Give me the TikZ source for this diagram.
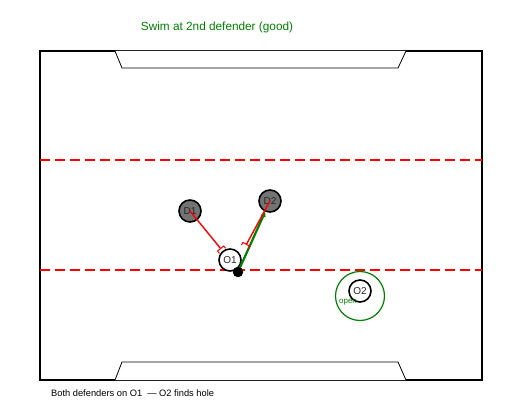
\documentclass[tikz,border=0pt]{standalone}
\usepackage{fontspec}
\setmainfont{Liberation Sans}
\usetikzlibrary{arrows.meta}

\begin{document}
\begin{tikzpicture}[x=1pt,y=-1pt]
\tikzstyle{player}=[draw,shape=circle,line width=1.6pt,inner sep=0pt,minimum size=22pt,font=\fontsize{10}{10}\selectfont,text=black!85];
\tikzstyle{defender}=[player,fill=black!55];
\tikzstyle{attacker}=[player,fill=white];
\tikzstyle{zoneline}=[red,line width=1.6pt,dash pattern=on 10pt off 5pt];
\tikzstyle{press}=[red,line width=1.4pt,-{Bracket[reversed,width=9pt,length=3pt,line width=1pt]}];
\tikzstyle{swim}=[green!50!black,line width=2.2pt,-{Triangle[width=5pt,length=5pt]}];
\useasboundingbox (0,0) rectangle (520,420);
% field and goals
\draw[line width=1.5pt] (40,51) rectangle (482,380);
\draw[fill=white,line width=0.8pt] (115,51) -- (122,68) -- (398,68) -- (406,51);
\draw[fill=white,line width=0.8pt] (115,380) -- (122,362) -- (398,362) -- (406,380);
\draw[zoneline] (40,160) -- (482,160);
\draw[zoneline] (40,270) -- (482,270);
% players
\node[defender] (D1) at (190,211) {D1};
\node[defender] (D2) at (270,201) {D2};
\node[attacker] (O1) at (230,260) {O1};
\node[attacker] (O2) at (360,291) {O2};
\coordinate (ballpos) at (238,272);
\coordinate (hit2) at (245,247);
% both defenders step to O1
\draw[swim] (ballpos) -- (D2);
\draw[press] (D1.center) -- (O1);
\draw[press] (D2.center) -- (hit2);
\node[draw,fill=black,shape=circle,minimum size=10pt,inner sep=0pt] (ball) at (ballpos) {};
% hole for O2
\draw[green!50!black,line width=1.2pt] (360,296) circle (24.5);
\node[green!50!black,font=\fontsize{8}{8}\selectfont] (open) at (348,302) {open};
% texts
\node[green!50!black,font=\fontsize{11.8}{12}\selectfont] (title) at (217,27) {Swim at 2nd defender (good)};
\node[anchor=west,inner sep=0pt,font=\fontsize{9.3}{9}\selectfont] (caption) at (51,393) {Both defenders on O1 \ — O2 finds hole};
\end{tikzpicture}
\end{document}
